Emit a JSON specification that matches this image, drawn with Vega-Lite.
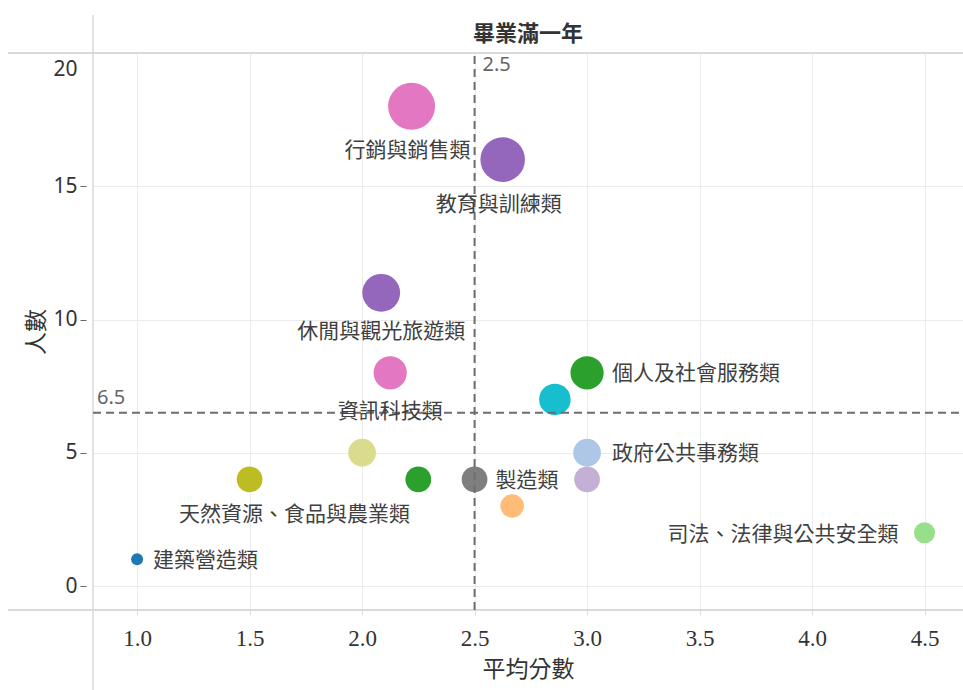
{
  "$schema": "https://vega.github.io/schema/vega-lite/v6.json",
  "width": 870,
  "height": 557,
  "autosize": {"type": "none"},
  "padding": {"left": 93, "top": 53, "right": 0, "bottom": 80},
  "background": "white",
  "title": {"text": "畢業滿一年", "fontSize": 22, "font": "Noto Sans CJK TC", "fontWeight": "bold", "color": "#333333", "anchor": "middle", "frame": "group", "offset": -32},
  "data": {"values": [
    {"類群": "行銷與銷售類", "平均分數": 2.22, "人數": 18},
    {"類群": "教育與訓練類", "平均分數": 2.625, "人數": 16},
    {"類群": "休閒與觀光旅遊類", "平均分數": 2.085, "人數": 11},
    {"類群": "資訊科技類", "平均分數": 2.125, "人數": 8},
    {"類群": "其他A", "平均分數": 2.857, "人數": 7},
    {"類群": "個人及社會服務類", "平均分數": 3.0, "人數": 8},
    {"類群": "其他B", "平均分數": 2.0, "人數": 5},
    {"類群": "政府公共事務類", "平均分數": 3.0, "人數": 5},
    {"類群": "天然資源、食品與農業類", "平均分數": 1.5, "人數": 4},
    {"類群": "其他C", "平均分數": 2.25, "人數": 4},
    {"類群": "製造類", "平均分數": 2.5, "人數": 4},
    {"類群": "其他D", "平均分數": 3.0, "人數": 4},
    {"類群": "其他E", "平均分數": 2.667, "人數": 3},
    {"類群": "司法、法律與公共安全類", "平均分數": 4.5, "人數": 2},
    {"類群": "建築營造類", "平均分數": 1.0, "人數": 1}
  ]},
  "layer": [
    {"mark": {"type": "circle", "opacity": 1},
     "encoding": {
       "x": {"field": "平均分數", "type": "quantitative",
         "scale": {"domain": [0.804, 4.671], "nice": false, "zero": false},
         "axis": {"values": [1, 1.5, 2, 2.5, 3, 3.5, 4, 4.5], "format": ".1f", "title": "平均分數",
           "labelFont": "Liberation Serif", "labelFontSize": 23, "labelColor": "#333333", "labelPadding": 12,
           "tickSize": 5, "tickColor": "#dddddd", "domain": false, "grid": true, "gridColor": "#ebebeb",
           "titleFont": "Noto Sans CJK TC", "titleFontSize": 23, "titleFontWeight": "normal", "titleColor": "#333333", "titlePadding": 8}},
       "y": {"field": "人數", "type": "quantitative",
         "scale": {"domain": [-0.9, 20], "nice": false, "zero": false},
         "axis": {"values": [0, 5, 10, 15, 20], "title": "人數",
           "labelFont": "Noto Sans", "labelFontSize": 21, "labelColor": "#333333", "labelPadding": 3,
           "labelOffset": {"condition": {"test": "datum.value === 20", "value": 16}, "value": 0},
           "tickOpacity": {"condition": {"test": "datum.value === 20", "value": 0}, "value": 1},
           "tickSize": 6, "tickColor": "#666666", "offset": 7, "domain": false, "grid": true, "gridColor": "#ebebeb",
           "titleFont": "Noto Sans CJK TC", "titleFontSize": 23, "titleFontWeight": "normal", "titleColor": "#333333", "titlePadding": 4}},
       "color": {"field": "類群", "type": "nominal", "legend": null,
         "scale": {"domain": ["行銷與銷售類", "教育與訓練類", "休閒與觀光旅遊類", "資訊科技類", "其他A", "個人及社會服務類", "其他B", "政府公共事務類", "天然資源、食品與農業類", "其他C", "製造類", "其他D", "其他E", "司法、法律與公共安全類", "建築營造類"],
           "range": ["#e377c2", "#9467bd", "#9467bd", "#e377c2", "#17becf", "#2ca02c", "#dbdb8d", "#aec7e8", "#bcbd22", "#2ca02c", "#7f7f7f", "#c5b0d5", "#ffbb78", "#98df8a", "#1f77b4"]}},
       "size": {"field": "人數", "type": "quantitative", "legend": null,
         "scale": {"domain": [1, 2, 18], "range": [144, 441, 2209]}}
     }},
    {"data": {"values": [{}]},
     "mark": {"type": "rule", "color": "#d9d9d9", "strokeWidth": 1.5},
     "encoding": {"x": {"datum": 0.804}, "y": {"datum": -3.9}, "y2": {"datum": 21.43}}},
    {"data": {"values": [{}]},
     "mark": {"type": "rule", "color": "#d9d9d9", "strokeWidth": 2},
     "encoding": {"y": {"datum": 20}, "x": {"datum": 0.426}, "x2": {"datum": 4.671}}},
    {"data": {"values": [{}]},
     "mark": {"type": "rule", "color": "#d9d9d9", "strokeWidth": 2},
     "encoding": {"y": {"datum": -0.9}, "x": {"datum": 0.426}, "x2": {"datum": 4.671}}},
    {"data": {"values": [{}]},
     "mark": {"type": "rule", "color": "#6e6e6e", "strokeWidth": 2, "strokeDash": [8, 5]},
     "encoding": {"x": {"datum": 2.5}, "y": {"datum": -0.9}, "y2": {"datum": 19.9}}},
    {"data": {"values": [{}]},
     "mark": {"type": "rule", "color": "#6e6e6e", "strokeWidth": 2, "strokeDash": [8, 5]},
     "encoding": {"y": {"datum": 6.5}, "x": {"datum": 0.804}, "x2": {"datum": 4.671}}},
    {"data": {"values": [{}]},
     "mark": {"type": "text", "text": "2.5", "font": "Noto Sans", "fontSize": 20, "color": "#666666", "align": "left", "baseline": "top", "dx": 8, "dy": 2},
     "encoding": {"x": {"datum": 2.5}, "y": {"datum": 20}}},
    {"data": {"values": [{}]},
     "mark": {"type": "text", "text": "6.5", "font": "Noto Sans", "fontSize": 20, "color": "#666666", "align": "left", "baseline": "alphabetic", "dx": 4, "dy": -9},
     "encoding": {"x": {"datum": 0.804}, "y": {"datum": 6.5}}},
    {"transform": [{"filter": {"field": "類群", "oneOf": ["行銷與銷售類", "教育與訓練類"]}}],
     "mark": {"type": "text", "font": "Noto Sans CJK TC", "fontSize": 21, "color": "#404040", "align": "center", "baseline": "middle", "dx": -4, "dy": 45},
     "encoding": {"x": {"field": "平均分數", "type": "quantitative"}, "y": {"field": "人數", "type": "quantitative"}, "text": {"field": "類群"}}},
    {"transform": [{"filter": {"field": "類群", "oneOf": ["休閒與觀光旅遊類", "資訊科技類"]}}],
     "mark": {"type": "text", "font": "Noto Sans CJK TC", "fontSize": 21, "color": "#404040", "align": "center", "baseline": "middle", "dx": 0, "dy": 39},
     "encoding": {"x": {"field": "平均分數", "type": "quantitative"}, "y": {"field": "人數", "type": "quantitative"}, "text": {"field": "類群"}}},
    {"transform": [{"filter": {"field": "類群", "oneOf": ["天然資源、食品與農業類"]}}],
     "mark": {"type": "text", "font": "Noto Sans CJK TC", "fontSize": 21, "color": "#404040", "align": "center", "baseline": "middle", "dx": 45, "dy": 36},
     "encoding": {"x": {"field": "平均分數", "type": "quantitative"}, "y": {"field": "人數", "type": "quantitative"}, "text": {"field": "類群"}}},
    {"transform": [{"filter": {"field": "類群", "oneOf": ["個人及社會服務類", "政府公共事務類"]}}],
     "mark": {"type": "text", "font": "Noto Sans CJK TC", "fontSize": 21, "color": "#404040", "align": "left", "baseline": "middle", "dx": 25, "dy": 1},
     "encoding": {"x": {"field": "平均分數", "type": "quantitative"}, "y": {"field": "人數", "type": "quantitative"}, "text": {"field": "類群"}}},
    {"transform": [{"filter": {"field": "類群", "oneOf": ["製造類"]}}],
     "mark": {"type": "text", "font": "Noto Sans CJK TC", "fontSize": 21, "color": "#404040", "align": "left", "baseline": "middle", "dx": 21, "dy": 2},
     "encoding": {"x": {"field": "平均分數", "type": "quantitative"}, "y": {"field": "人數", "type": "quantitative"}, "text": {"field": "類群"}}},
    {"transform": [{"filter": {"field": "類群", "oneOf": ["建築營造類"]}}],
     "mark": {"type": "text", "font": "Noto Sans CJK TC", "fontSize": 21, "color": "#404040", "align": "left", "baseline": "middle", "dx": 16, "dy": 2},
     "encoding": {"x": {"field": "平均分數", "type": "quantitative"}, "y": {"field": "人數", "type": "quantitative"}, "text": {"field": "類群"}}},
    {"transform": [{"filter": {"field": "類群", "oneOf": ["司法、法律與公共安全類"]}}],
     "mark": {"type": "text", "font": "Noto Sans CJK TC", "fontSize": 21, "color": "#404040", "align": "right", "baseline": "middle", "dx": -26, "dy": 2},
     "encoding": {"x": {"field": "平均分數", "type": "quantitative"}, "y": {"field": "人數", "type": "quantitative"}, "text": {"field": "類群"}}}
  ],
  "config": {
    "view": {"stroke": null}
  }
}
